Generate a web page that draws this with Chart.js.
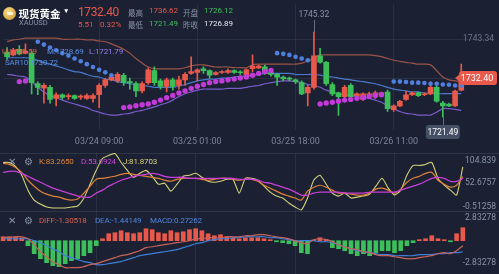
<!DOCTYPE html>
<html>
<head>
<meta charset="utf-8">
<script src="https://cdn.jsdelivr.net/npm/chart.js@4.4.1/dist/chart.umd.min.js"></script>
<style>
html, body { margin: 0; padding: 0; background: #1b2133; }
#wrap { position: relative; width: 499px; height: 274px; overflow: hidden; background: #1b2133; font-family: Roboto, "Liberation Sans", sans-serif; }
canvas { position: absolute; left: 0; }
.t { position: absolute; white-space: nowrap; line-height: 1; }
.sep { position: absolute; left: 0; width: 499px; height: 1px; background: rgba(255,255,255,0.09); }
.lg { font-size: 8px; letter-spacing: -0.15px; }
.hd { font-size: 8px; }
.cj { font: 7.5px 'Noto Sans CJK SC'; color: #8a93a6; }
.gray { color: #8a93a6; }
</style>
</head>
<body>
<div id="wrap">
  <canvas id="main" width="499" height="153" style="top:0"></canvas>
  <canvas id="kdj" width="499" height="58" style="top:153px"></canvas>
  <canvas id="macd" width="499" height="63" style="top:211px"></canvas>
  <div class="sep" style="top:153px"></div>
  <div class="sep" style="top:211px"></div>

  <!-- header -->
  <div style="position:absolute;left:3px;top:7px;width:13px;height:13px;border-radius:50%;background:radial-gradient(circle at 40% 35%,#f8dc86,#c8922a);"></div>
  <div style="position:absolute;left:6.5px;top:12px;width:6px;height:3px;border-radius:1px;background:#fff6dc;"></div>
  <div class="t" style="left:18.5px;top:6px;font:bold 10.5px 'Noto Sans CJK SC';color:#fff">现货黄金</div>
  <div class="t" style="left:63px;top:8px;font-size:6.5px;color:#fff">▼</div>
  <div class="t gray" style="left:19px;top:19px;font-size:7.5px">XAUUSD</div>
  <div class="t" style="left:78px;top:5.5px;font-size:12px;letter-spacing:-0.4px;color:#e8584b">1732.40</div>
  <div class="t hd" style="left:78px;top:20.5px;color:#e8584b">5.51</div>
  <div class="t hd" style="left:100px;top:20.5px;color:#e8584b">0.32%</div>
  <div class="t cj" style="left:128px;top:6.5px">最高</div>
  <div class="t hd" style="left:149px;top:7px;color:#e8584b">1736.62</div>
  <div class="t cj" style="left:183px;top:6.5px">开盘</div>
  <div class="t hd" style="left:204px;top:7px;color:#3fbf5c">1726.12</div>
  <div class="t cj" style="left:128px;top:19px">最低</div>
  <div class="t hd" style="left:149px;top:19.5px;color:#3fbf5c">1721.49</div>
  <div class="t cj" style="left:183px;top:19px">昨收</div>
  <div class="t hd" style="left:204px;top:19.5px;color:#e6e8ee">1726.89</div>

  <!-- main legend -->
  <div class="t lg" style="left:2px;top:47.5px;color:#e0653f">U:1735.59</div>
  <div class="t lg" style="left:47px;top:47.5px;color:#5b8fe0">M:1728.69</div>
  <div class="t lg" style="left:89px;top:47.5px;color:#9a7ff0">L:1721.79</div>
  <div class="t lg" style="left:5px;top:59px;color:#5b8fe0">SAR10:1730.72</div>

  <!-- kdj legend -->
  <div class="t gray" style="left:8px;top:157px;font-size:9.5px">✕</div>
  <div class="t gray" style="left:24px;top:156.5px;font-size:10px">⚙</div>
  <div class="t lg" style="left:39px;top:158px;color:#e0813a">K:83.2650</div>
  <div class="t lg" style="left:81px;top:158px;color:#c84ad8">D:53.6924</div>
  <div class="t lg" style="left:123px;top:158px;color:#d6d47c">J:81.8703</div>

  <!-- macd legend -->
  <div class="t gray" style="left:8px;top:216px;font-size:9.5px">✕</div>
  <div class="t gray" style="left:24px;top:215.5px;font-size:10px">⚙</div>
  <div class="t lg" style="left:39px;top:217px;color:#d8604f">DIFF:-1.30518</div>
  <div class="t lg" style="left:95px;top:217px;color:#4f86e0">DEA:-1.44149</div>
  <div class="t lg" style="left:150px;top:217px;color:#4f86e0">MACD:0.27262</div>
</div>

<script>
// hourly candles, oldest first
const open = [
  1739.69, 1738.91, 1740.47, 1739.43, 1739.43, 1730.84, 1729.54, 1729.80, 1726.67, 1727.71,
  1727.19, 1727.45, 1727.05, 1726.67, 1726.67, 1727.71, 1730.32, 1731.88, 1731.62, 1733.18,
  1731.36, 1730.84, 1728.75, 1731.10, 1734.48, 1731.62, 1730.06, 1731.88, 1730.32, 1731.88,
  1733.70, 1733.96, 1735.00, 1734.48, 1733.44, 1733.96, 1733.96, 1734.48, 1733.96, 1733.18,
  1735.00, 1735.26, 1735.52, 1733.96, 1733.44, 1732.66, 1732.14, 1731.88, 1731.10, 1728.23,
  1729.80, 1738.65, 1736.83, 1730.58, 1728.23, 1727.19, 1730.32, 1727.45, 1726.41, 1727.71,
  1727.19, 1727.97, 1728.49, 1723.55, 1724.59, 1726.41, 1727.71, 1728.23, 1727.71, 1727.97,
  1729.80, 1725.37, 1725.11, 1724.59, 1729.01
];
const high = [
  1740.99, 1740.73, 1741.51, 1742.03, 1739.95, 1731.36, 1730.84, 1730.32, 1728.23, 1727.97,
  1727.97, 1727.71, 1727.71, 1727.97, 1727.97, 1730.84, 1732.40, 1732.92, 1733.96, 1733.70,
  1732.40, 1731.36, 1731.36, 1735.26, 1735.52, 1732.14, 1732.40, 1732.40, 1732.92, 1733.96,
  1738.39, 1735.00, 1735.52, 1734.74, 1734.22, 1734.48, 1735.00, 1734.74, 1734.48, 1735.00,
  1738.91, 1736.05, 1736.05, 1734.22, 1733.70, 1732.92, 1732.66, 1732.14, 1731.62, 1730.32,
  1745.32, 1740.73, 1737.09, 1731.10, 1728.49, 1730.32, 1730.84, 1728.23, 1728.23, 1728.49,
  1728.75, 1728.49, 1729.01, 1724.85, 1726.15, 1728.75, 1728.49, 1728.49, 1728.23, 1731.36,
  1730.06, 1725.89, 1725.37, 1729.01, 1736.31
];
const low = [
  1737.61, 1738.65, 1738.91, 1739.17, 1727.97, 1727.71, 1725.37, 1725.37, 1724.59, 1726.41,
  1726.41, 1726.41, 1726.41, 1726.41, 1725.63, 1724.07, 1729.80, 1731.62, 1731.10, 1730.32,
  1729.28, 1727.19, 1728.23, 1730.58, 1730.32, 1729.28, 1728.49, 1729.01, 1729.28, 1730.32,
  1733.44, 1731.62, 1733.70, 1732.40, 1733.18, 1733.70, 1733.70, 1733.70, 1733.44, 1732.92,
  1734.22, 1735.00, 1733.44, 1732.92, 1730.32, 1731.62, 1731.62, 1730.84, 1727.71, 1724.59,
  1729.28, 1736.57, 1730.32, 1727.45, 1721.90, 1726.41, 1726.67, 1727.19, 1726.15, 1727.45,
  1726.67, 1727.45, 1723.03, 1723.03, 1724.33, 1726.15, 1727.45, 1727.19, 1727.45, 1727.71,
  1725.63, 1721.49, 1724.33, 1724.33, 1728.75
];
const close = [
  1738.39, 1740.21, 1739.17, 1739.95, 1731.10, 1729.80, 1730.32, 1726.41, 1727.71, 1726.93,
  1727.25, 1726.67, 1727.10, 1727.45, 1727.45, 1730.32, 1731.88, 1732.66, 1733.44, 1731.10,
  1731.10, 1728.75, 1730.84, 1734.74, 1731.10, 1730.06, 1731.88, 1730.06, 1731.88, 1733.44,
  1734.22, 1734.74, 1734.48, 1733.18, 1733.96, 1734.09, 1734.48, 1733.96, 1733.90, 1734.74,
  1735.79, 1735.79, 1733.96, 1733.44, 1732.66, 1732.14, 1732.10, 1731.36, 1727.97, 1729.80,
  1738.65, 1736.83, 1730.84, 1727.97, 1727.19, 1729.80, 1727.19, 1727.97, 1727.97, 1727.97,
  1728.23, 1728.00, 1723.81, 1724.59, 1725.89, 1727.71, 1728.23, 1727.45, 1727.97, 1729.80,
  1725.89, 1724.59, 1724.59, 1728.75, 1732.40
];

// Bollinger bands
const upper = [
  1742.6, 1743.1, 1743.3, 1743.6, 1743.6, 1743.6, 1743.6, 1743.6, 1743.6, 1743.3,
  1743.3, 1743.3, 1743.3, 1743.1, 1743.1, 1742.8, 1742.6, 1742.0, 1741.3, 1740.5,
  1739.4, 1737.9, 1736.6, 1735.5, 1735.0, 1735.0, 1735.0, 1735.0, 1735.0, 1735.3,
  1735.8, 1736.1, 1736.1, 1735.8, 1735.5, 1735.5, 1735.5, 1735.3, 1735.3, 1735.3,
  1736.1, 1736.3, 1736.3, 1736.3, 1736.3, 1736.3, 1736.3, 1736.3, 1736.6, 1737.1,
  1738.1, 1738.9, 1738.9, 1738.9, 1738.9, 1738.9, 1738.9, 1738.9, 1738.9, 1738.9,
  1738.7, 1738.4, 1737.9, 1737.4, 1737.1, 1736.8, 1736.6, 1736.3, 1736.3, 1736.1,
  1734.5, 1732.7, 1731.9, 1731.6, 1731.4
];
const mid = [
  1738.1, 1738.1, 1738.1, 1738.1, 1737.9, 1737.4, 1736.8, 1736.3, 1735.8, 1735.3,
  1734.7, 1734.2, 1734.0, 1733.4, 1732.9, 1732.7, 1732.1, 1731.9, 1731.4, 1731.1,
  1730.8, 1730.6, 1730.3, 1730.1, 1729.8, 1729.8, 1729.8, 1729.8, 1730.1, 1730.6,
  1731.1, 1731.6, 1731.9, 1732.1, 1732.1, 1732.4, 1732.4, 1732.7, 1732.9, 1732.9,
  1733.2, 1733.4, 1733.7, 1733.7, 1733.7, 1733.7, 1733.7, 1733.4, 1733.4, 1733.4,
  1733.4, 1733.2, 1732.9, 1732.7, 1732.4, 1732.1, 1731.9, 1731.6, 1731.4, 1731.1,
  1730.8, 1730.3, 1729.8, 1729.3, 1729.0, 1728.8, 1728.5, 1728.5, 1728.2, 1728.2,
  1728.0, 1728.0, 1728.0, 1728.0, 1728.0
];
const lower = [
  1733.4, 1733.2, 1732.9, 1732.7, 1731.4, 1729.8, 1728.5, 1727.5, 1726.9, 1726.2,
  1725.6, 1725.1, 1724.6, 1724.1, 1723.3, 1722.8, 1722.3, 1722.0, 1722.0, 1722.3,
  1722.5, 1723.0, 1723.3, 1723.8, 1724.3, 1724.9, 1725.4, 1726.2, 1727.2, 1728.0,
  1728.5, 1729.0, 1729.3, 1729.3, 1729.3, 1729.3, 1729.5, 1729.5, 1729.5, 1729.8,
  1730.1, 1730.3, 1730.8, 1731.1, 1731.4, 1731.6, 1731.6, 1731.4, 1731.1, 1730.6,
  1730.3, 1729.8, 1729.0, 1728.5, 1728.0, 1727.7, 1727.5, 1727.2, 1726.9, 1726.7,
  1726.2, 1725.6, 1724.6, 1723.8, 1723.0, 1722.5, 1722.3, 1722.0, 1722.0, 1722.0,
  1722.8, 1723.8, 1723.8, 1723.6, 1723.3
];

// parabolic SAR, above price (falling) and below price (rising)
const sarHi = [
  null, null, null, null, null, 1742.6, 1741.8, 1741.0, 1740.2, 1739.4,
  1738.7, 1737.9, 1737.1, 1736.3, 1735.5, 1734.7, 1734.0, 1733.2, null, null,
  null, null, null, null, null, null, null, null, null, null,
  null, null, null, null, null, null, null, null, null, null,
  null, null, null, null, 1739.4, 1739.2, 1738.9, 1738.4, 1737.9, 1737.4,
  null, null, null, null, null, null, null, null, null, null,
  null, null, null, 1731.4, 1731.4, 1731.3, 1731.1, 1731.1, 1731.0, 1730.8,
  1730.8, 1730.6, 1730.5, 1730.3, 1730.3
];
const sarLo = [
  null, null, 1731.4, 1731.6, null, null, null, null, null, null,
  null, null, null, null, null, null, null, null, null, 1724.1,
  1724.3, 1724.6, 1724.9, 1725.1, 1725.6, 1726.2, 1726.9, 1727.5, 1728.2, 1728.8,
  1729.5, 1730.1, 1730.6, 1731.1, 1731.4, 1731.6, 1731.9, 1732.1, 1732.4, 1732.7,
  1733.2, 1733.7, 1734.2, 1734.5, null, null, null, null, null, null,
  null, 1725.1, 1725.4, 1725.6, 1725.9, 1726.2, 1726.4, 1726.7, 1726.9, 1727.2,
  1727.5, 1727.7, null, null, null, null, null, null, null, null,
  null, null, null, null, null
];

// KDJ
const kLine = [
  98.0, 95.8, 89.0, 77.6, 59.5, 45.9, 34.5, 27.7, 23.2, 20.9,
  16.4, 14.1, 16.4, 30.0, 45.9, 61.7, 64.0, 66.3, 68.6, 73.1,
  75.4, 73.1, 70.8, 68.6, 66.3, 64.0, 59.5, 57.2, 61.7, 64.0,
  64.0, 64.0, 61.7, 59.5, 61.7, 64.0, 64.0, 61.7, 59.5, 61.7,
  61.7, 57.2, 48.1, 41.3, 34.5, 27.7, 23.2, 18.7, 14.1, 34.5,
  43.6, 48.1, 43.6, 36.8, 30.0, 30.0, 27.7, 25.5, 25.5, 30.0,
  39.1, 41.3, 36.8, 30.0, 39.1, 54.9, 64.0, 68.6, 75.4, 77.6,
  59.5, 50.4, 43.6, 48.1, 68.0
];
const dLine = [
  77.6, 79.9, 79.9, 75.4, 68.6, 61.7, 54.9, 48.1, 41.3, 36.8,
  32.3, 27.7, 23.2, 20.9, 20.9, 30.0, 36.8, 45.9, 52.7, 59.5,
  64.0, 68.6, 70.8, 73.1, 75.4, 73.1, 68.6, 66.3, 66.3, 66.3,
  64.0, 64.0, 64.0, 64.0, 64.0, 64.0, 64.0, 64.0, 61.7, 61.7,
  61.7, 59.5, 54.9, 52.7, 48.1, 43.6, 39.1, 32.3, 25.5, 25.5,
  30.0, 32.3, 32.3, 32.3, 32.3, 30.0, 30.0, 30.0, 30.0, 32.3,
  32.3, 32.3, 32.3, 32.3, 36.8, 41.3, 45.9, 50.4, 57.2, 64.0,
  66.3, 64.0, 57.2, 57.2, 64.0
];
const jLine = [
  100.3, 100.3, 91.2, 70.8, 36.8, 14.1, 5.0, -1.8, -4.0, -4.0,
  -4.0, -1.8, 0.5, 18.7, 50.4, 82.2, 109.4, 116.2, 120.7, 100.3,
  82.2, 66.3, 75.4, 82.2, 68.6, 50.4, 52.7, 34.5, 50.4, 68.6,
  70.8, 75.4, 66.3, 57.2, 54.9, 57.2, 61.7, 61.7, 30.0, 64.0,
  64.0, 59.5, 45.9, 32.3, 23.2, 18.7, 7.3, -1.8, -8.6, 18.7,
  59.5, 70.8, 50.4, 30.0, 23.2, 30.0, 18.7, 20.9, 23.2, 27.7,
  45.9, 64.0, 41.3, 25.5, 36.8, 70.8, 93.5, 93.5, 95.8, 100.3,
  64.0, 48.1, 36.8, 25.5, 90.0
];

// MACD
const diff = [
  0.38, 0.44, 0.50, 0.50, 0.25, -0.50, -1.39, -2.02, -2.64, -3.02,
  -3.40, -3.40, -3.40, -3.27, -3.02, -2.90, -2.64, -2.39, -2.14, -1.89,
  -1.76, -1.51, -1.26, -0.88, -0.76, -0.63, -0.50, -0.38, -0.25, -0.13,
  0.00, 0.25, 0.25, 0.38, 0.38, 0.38, 0.50, 0.50, 0.50, 0.63,
  0.63, 0.76, 0.76, 0.63, 0.50, 0.38, 0.25, 0.00, -0.25, -0.38,
  0.13, 0.25, 0.13, -0.13, -0.50, -0.76, -1.01, -1.13, -1.39, -1.51,
  -1.76, -1.89, -1.89, -2.02, -2.14, -2.27, -2.27, -2.14, -2.02, -1.89,
  -1.64, -1.51, -1.64, -1.26, -0.63
];
const dea = [
  0.25, 0.25, 0.25, 0.25, 0.25, 0.00, -0.25, -0.63, -1.01, -1.39,
  -1.89, -2.14, -2.39, -2.64, -2.77, -3.02, -3.02, -2.90, -2.77, -2.64,
  -2.39, -2.14, -1.89, -1.76, -1.64, -1.51, -1.39, -1.26, -1.13, -0.88,
  -0.63, -0.38, -0.25, 0.00, 0.13, 0.25, 0.25, 0.38, 0.38, 0.50,
  0.50, 0.50, 0.50, 0.38, 0.38, 0.25, 0.13, 0.00, 0.00, 0.00,
  0.00, -0.13, -0.13, -0.25, -0.50, -0.76, -1.01, -1.26, -1.39, -1.51,
  -1.64, -1.76, -1.76, -1.89, -1.89, -1.89, -1.89, -1.76, -1.76, -1.76,
  -1.64, -1.64, -1.51, -1.51, -1.39
];
const hist = [
  0.50, 0.50, 0.50, 0.38, -0.63, -1.64, -2.27, -2.77, -3.15, -3.27,
  -2.90, -2.52, -2.27, -1.89, -1.51, -0.63, 0.25, 0.88, 1.01, 1.26,
  1.01, 0.88, 1.01, 1.51, 1.39, 1.01, 0.88, 1.26, 1.01, 1.13,
  1.39, 1.51, 1.26, 0.88, 0.63, 0.76, 0.50, 0.38, 0.25, 0.38,
  0.38, 0.38, 0.25, 0.13, -0.13, -0.25, -0.38, -0.63, -1.51, -1.64,
  0.10, 0.38, 0.13, -0.88, -1.01, -1.26, -1.64, -1.89, -1.64, -1.89,
  -1.51, -1.26, -1.26, -1.51, -1.26, -0.63, -0.25, 0.13, 0.25, 0.63,
  0.25, 0.13, -0.13, 0.88, 1.64
];

// time axis
const times = ['03/24 09:00', '03/25 01:00', '03/25 18:00', '03/26 11:00'];
const gridIdx = [15, 31, 47, 63];
const slots = Array.from({ length: 80 }, (_, i) => i);

const priceGrid = [1732.40, 1743.34];
const priceLabels = [1743.34];
const kdjLabels = [104.839, 52.6757, -0.51258];
const macdLabels = [2.83278, -2.83278];

const RED = '#e8584b';
const GREEN = '#3cbf5a';
const GRID = 'rgba(255,255,255,0.07)';

Chart.defaults.font.family = 'Roboto, "Liberation Sans", sans-serif';
Chart.defaults.font.size = 9;

const candleColor = close.map((c, i) => c >= open[i] ? RED : GREEN);

const rightLabels = {
  id: 'rightLabels',
  afterDraw(chart, args, opts) {
    const { ctx, chartArea } = chart;
    const y = chart.scales.y;
    ctx.save();
    ctx.font = '8.5px Roboto, sans-serif';
    ctx.fillStyle = opts.color || '#8a93a6';
    ctx.textAlign = 'right';
    ctx.textBaseline = 'middle';
    (opts.values || []).forEach(v => ctx.fillText(String(v), chartArea.right - 1, y.getPixelForValue(v)));
    ctx.restore();
  }
};

// last price tag, highest high and lowest low markers
const priceTags = {
  id: 'priceTags',
  afterDatasetsDraw(chart) {
    const { ctx, chartArea } = chart;
    const xs = chart.scales.x, ys = chart.scales.y;
    ctx.save();
    ctx.font = '8.5px Roboto, sans-serif';
    ctx.textBaseline = 'middle';
    ctx.textAlign = 'center';

    const hi = Math.max(...high), hiIdx = high.indexOf(hi);
    const hx = xs.getPixelForValue(hiIdx), hy = ys.getPixelForValue(hi);
    ctx.strokeStyle = 'rgba(170,178,195,0.55)';
    ctx.lineWidth = 1;
    ctx.beginPath();
    ctx.moveTo(Math.round(hx) + 0.5, 20);
    ctx.lineTo(Math.round(hx) + 0.5, hy);
    ctx.stroke();
    ctx.fillStyle = '#8a93a6';
    ctx.fillText(hi.toFixed(2), hx, 15);

    const lo = Math.min(...low), loIdx = low.indexOf(lo);
    const lx = xs.getPixelForValue(loIdx), ly = ys.getPixelForValue(lo);
    ctx.beginPath();
    ctx.moveTo(Math.round(lx) + 0.5, ly);
    ctx.lineTo(Math.round(lx) + 0.5, ly + 8);
    ctx.stroke();
    ctx.fillStyle = 'rgba(72,82,104,0.95)';
    ctx.beginPath();
    ctx.roundRect(lx - 17, ly + 8, 34, 14, 3);
    ctx.fill();
    ctx.fillStyle = '#ffffff';
    ctx.fillText(lo.toFixed(2), lx, ly + 15.5);

    const last = close[close.length - 1];
    const py = ys.getPixelForValue(last);
    const bx = chartArea.right - 36;
    ctx.fillStyle = RED;
    ctx.beginPath();
    ctx.roundRect(bx, py - 7, 38, 14, 3);
    ctx.fill();
    ctx.beginPath();
    ctx.moveTo(bx + 1, py - 4);
    ctx.lineTo(bx - 4, py);
    ctx.lineTo(bx + 1, py + 4);
    ctx.fill();
    ctx.fillStyle = '#ffffff';
    ctx.font = '9px Roboto, sans-serif';
    ctx.fillText(last.toFixed(2), bx + 18, py + 0.5);
    ctx.restore();
  }
};

const xGrid = {
  offset: false,
  drawTicks: false,
  color: c => gridIdx.includes(c.index) ? GRID : 'transparent'
};

function hiddenY(min, max, grid) {
  return {
    position: 'right',
    min, max,
    beginAtZero: false,
    afterBuildTicks: s => { s.ticks = (grid || []).map(v => ({ value: v })); },
    ticks: { display: false },
    grid: { drawTicks: false, color: GRID },
    border: { display: false }
  };
}

new Chart(document.getElementById('main'), {
  type: 'bar',
  data: {
    labels: slots,
    datasets: [
      { type: 'line', data: upper, borderColor: '#9c5448', borderWidth: 1.2, pointRadius: 0, tension: 0.3, order: 6 },
      { type: 'line', data: mid, borderColor: '#4a78cc', borderWidth: 1.2, pointRadius: 0, tension: 0.3, order: 6 },
      { type: 'line', data: lower, borderColor: '#7b5ccc', borderWidth: 1.2, pointRadius: 0, tension: 0.3, order: 6 },
      { data: high.map((h, i) => [low[i], h]), backgroundColor: candleColor, barThickness: 1, grouped: false, order: 5 },
      { data: open.map((o, i) => [o, close[i]]), backgroundColor: candleColor, barThickness: 5, minBarLength: 1, grouped: false, order: 4 },
      { type: 'line', data: sarHi, showLine: false, pointRadius: 2.3, pointBackgroundColor: '#4f80e0', pointBorderWidth: 0, order: 3 },
      { type: 'line', data: sarLo, showLine: false, pointRadius: 2.7, pointBackgroundColor: '#c23ad8', pointBorderWidth: 0, order: 3 }
    ]
  },
  options: {
    responsive: false,
    devicePixelRatio: 1,
    animation: false,
    layout: { padding: { right: 2 } },
    plugins: {
      legend: { display: false },
      tooltip: { enabled: false },
      rightLabels: { values: priceLabels, color: '#6b7386' }
    },
    scales: {
      x: {
        offset: true,
        grid: xGrid,
        border: { display: false },
        ticks: {
          autoSkip: false, maxRotation: 0, padding: 6, color: '#7c8598',
          callback: (v, i) => { const k = gridIdx.indexOf(i); return k >= 0 ? times[k] : ''; }
        }
      },
      y: hiddenY(1717.75, 1753.2, priceGrid)
    }
  },
  plugins: [rightLabels, priceTags]
});

new Chart(document.getElementById('kdj'), {
  type: 'line',
  data: {
    labels: slots,
    datasets: [
      { data: dLine, borderColor: '#c63fd6', borderWidth: 1.3, pointRadius: 0, tension: 0.3 },
      { data: kLine, borderColor: '#e0813a', borderWidth: 1.2, pointRadius: 0, tension: 0.3 },
      { data: jLine, borderColor: '#d4d27a', borderWidth: 1.1, pointRadius: 0, tension: 0.2 }
    ]
  },
  options: {
    responsive: false,
    devicePixelRatio: 1,
    animation: false,
    layout: { padding: { right: 2 } },
    plugins: { legend: { display: false }, tooltip: { enabled: false }, rightLabels: { values: kdjLabels } },
    scales: {
      x: { offset: true, grid: xGrid, border: { display: false }, ticks: { display: false } },
      y: hiddenY(-11, 122, [])
    }
  },
  plugins: [rightLabels]
});

new Chart(document.getElementById('macd'), {
  type: 'bar',
  data: {
    labels: slots,
    datasets: [
      { type: 'line', data: diff, borderColor: '#c8625a', borderWidth: 1.2, pointRadius: 0, tension: 0.3, order: 1 },
      { type: 'line', data: dea, borderColor: '#3f7fd6', borderWidth: 1.2, pointRadius: 0, tension: 0.3, order: 1 },
      { data: hist, backgroundColor: hist.map(v => v >= 0 ? RED : GREEN), barThickness: 4, order: 2 }
    ]
  },
  options: {
    responsive: false,
    devicePixelRatio: 1,
    animation: false,
    layout: { padding: { right: 2 } },
    plugins: { legend: { display: false }, tooltip: { enabled: false }, rightLabels: { values: macdLabels } },
    scales: {
      x: { offset: true, grid: xGrid, border: { display: false }, ticks: { display: false } },
      y: hiddenY(-4.2, 3.75, [])
    }
  },
  plugins: [rightLabels]
});
</script>
</body>
</html>
